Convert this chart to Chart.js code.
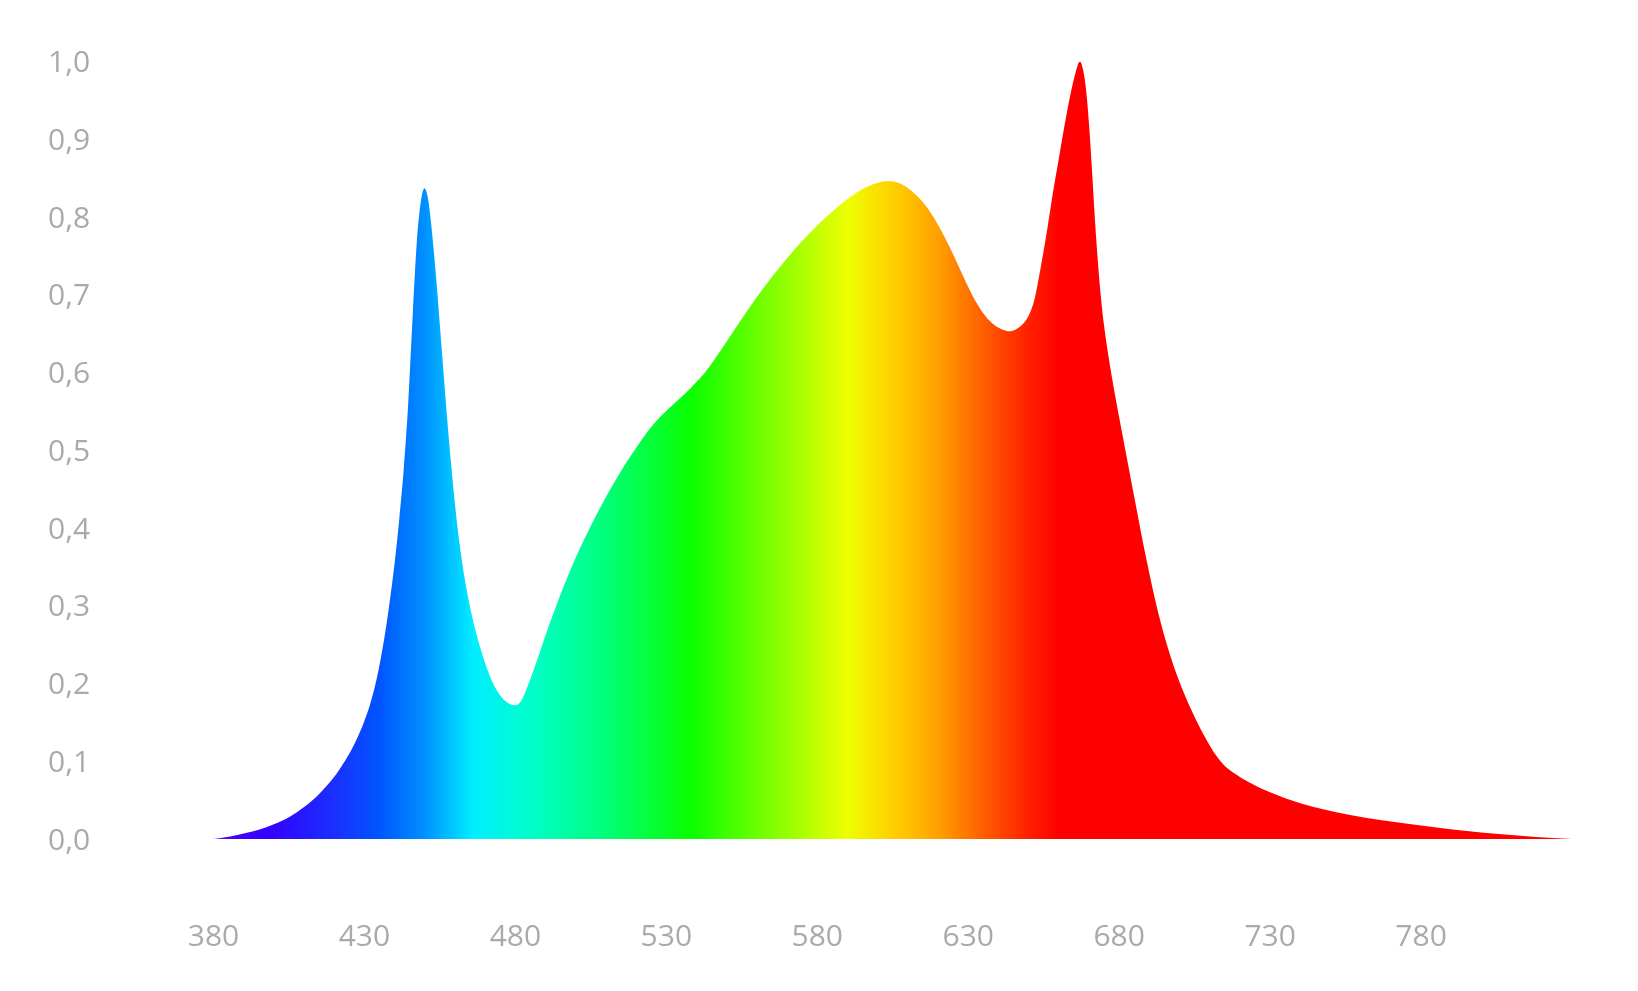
<!DOCTYPE html>
<html>
<head>
<meta charset="utf-8">
<title>Spectrum</title>
<script src="https://cdn.jsdelivr.net/npm/chart.js@4.4.1/dist/chart.umd.min.js"></script>
<style>
  html, body { margin: 0; padding: 0; background: #fff; }
  #wrap { width: 1638px; height: 991px; position: relative; }
</style>
</head>
<body>
<div id="wrap"><canvas id="spectrum-chart"></canvas></div>
<script>
// Wavelength (nm) and relative intensity
const wavelengths = [
    380, 385, 390, 395, 400, 405, 410, 415, 420, 423, 426, 428, 430, 432, 434, 436, 438,
    440, 441.5, 443, 444.5, 446, 447.3, 448.5, 449.9, 451, 452, 453, 454, 455, 456, 457,
    458, 459, 460, 461.5, 463, 465, 467, 469, 471, 473, 475.5, 478, 480, 482, 484, 487,
    490, 495, 500, 505, 510, 514, 517, 520, 524, 528, 532, 536, 540, 543, 546, 550, 555,
    560, 565, 570, 575, 580, 585, 590, 595, 600, 603, 606, 609, 612, 615, 618, 621, 624,
    627, 630, 633, 636, 639, 641.5, 643.5, 646, 648, 650, 652, 654, 656, 658, 660, 662,
    664, 665.5, 667, 668, 669, 670, 671, 672, 673, 674, 675, 676.5, 678.5, 681, 685, 689,
    693, 697, 701, 705, 709, 712, 715, 718, 723, 730, 740, 756.5, 778.7, 800.7, 817, 830
];
const intensity = [
    0.000, 0.003, 0.007, 0.012, 0.019, 0.028, 0.041, 0.058, 0.080, 0.097, 0.117, 0.133, 0.152, 0.175, 0.205, 0.245, 0.295,
    0.355, 0.410, 0.475, 0.560, 0.675, 0.765, 0.815, 0.837, 0.825, 0.795, 0.755, 0.710, 0.660, 0.610, 0.560,
    0.513, 0.470, 0.430, 0.380, 0.340, 0.298, 0.265, 0.238, 0.215, 0.197, 0.182, 0.174, 0.172, 0.178, 0.196, 0.228,
    0.262, 0.315, 0.362, 0.403, 0.440, 0.467, 0.486, 0.503, 0.525, 0.543, 0.558, 0.572, 0.588, 0.601, 0.617, 0.640, 0.669,
    0.697, 0.723, 0.747, 0.769, 0.789, 0.807, 0.823, 0.836, 0.844, 0.846, 0.845, 0.840, 0.831, 0.819, 0.803, 0.783, 0.760,
    0.735, 0.710, 0.688, 0.671, 0.660, 0.655, 0.653, 0.656, 0.662, 0.673, 0.695, 0.735, 0.780, 0.830, 0.875, 0.920,
    0.960, 0.985, 1.000, 0.990, 0.965, 0.920, 0.860, 0.795, 0.740, 0.695, 0.660, 0.620, 0.574, 0.522, 0.440, 0.360,
    0.290, 0.235, 0.192, 0.157, 0.127, 0.108, 0.094, 0.085, 0.073, 0.060, 0.046, 0.031, 0.018, 0.008, 0.003, 0.000
];

// Axis ticks
const xTicks = [380, 430, 480, 530, 580, 630, 680, 730, 780];
const yTicks = [0, 0.1, 0.2, 0.3, 0.4, 0.5, 0.6, 0.7, 0.8, 0.9, 1.0];

// Colour of the fill at each wavelength
const gradientNm = [380, 398, 420, 435, 450, 466, 486, 510, 538, 565, 590, 605, 620, 637, 650, 660, 830];
const gradientColors = [
    '#5000ff', '#3400ff', '#1a30ff', '#0055ff', '#0090ff', '#00eeff', '#00ffc8', '#00ff7a',
    '#0aff00', '#80ff00', '#eeff00', '#ffd000', '#ffa000', '#ff5500', '#ff2000', '#ff0000', '#ff0000'
];

function spectrumFill(context) {
    const chart = context.chart;
    const area = chart.chartArea;
    const xScale = chart.scales.x;
    if (!area || !xScale) return '#ff0000';
    const left = xScale.getPixelForValue(380);
    const right = xScale.getPixelForValue(830);
    const grad = chart.ctx.createLinearGradient(left, 0, right, 0);
    gradientNm.forEach((nm, i) => {
        const pos = (xScale.getPixelForValue(nm) - left) / (right - left);
        grad.addColorStop(Math.min(1, Math.max(0, pos)), gradientColors[i]);
    });
    return grad;
}

const labelFont = { family: "'Open Sans', sans-serif", size: 30 };
const labelColor = '#aaaaaa';

const ctx = document.getElementById('spectrum-chart').getContext('2d');
const spectrumChart = new Chart(ctx, {
    type: 'line',
    data: {
        datasets: [{
            data: wavelengths.map((nm, i) => ({ x: nm, y: intensity[i] })),
            fill: 'origin',
            backgroundColor: spectrumFill,
            borderWidth: 0,
            pointRadius: 0,
            cubicInterpolationMode: 'monotone'
        }]
    },
    options: {
        responsive: true,
        maintainAspectRatio: false,
        animation: false,
        layout: {
            padding: { left: 48, top: 61.5, right: 66, bottom: 0 }
        },
        plugins: {
            legend: { display: false },
            tooltip: { enabled: false }
        },
        scales: {
            x: {
                type: 'linear',
                min: 380,
                max: 830,
                border: { display: false },
                grid: { display: false, drawTicks: false },
                afterBuildTicks: axis => {
                    axis.ticks = xTicks.map(v => ({ value: v }));
                },
                afterFit: axis => { axis.height = 152; },
                ticks: {
                    padding: 80,
                    maxRotation: 0,
                    autoSkip: false,
                    color: labelColor,
                    font: labelFont
                }
            },
            y: {
                min: 0,
                max: 1,
                border: { display: false },
                grid: { display: false, drawTicks: false },
                afterBuildTicks: axis => {
                    axis.ticks = yTicks.map(v => ({ value: v }));
                },
                afterFit: axis => { axis.width = 165.5; },
                ticks: {
                    padding: 0,
                    labelOffset: 2,
                    crossAlign: 'far',
                    color: labelColor,
                    font: labelFont,
                    callback: value => value.toFixed(1).replace('.', ',')
                }
            }
        }
    }
});
</script>
</body>
</html>
